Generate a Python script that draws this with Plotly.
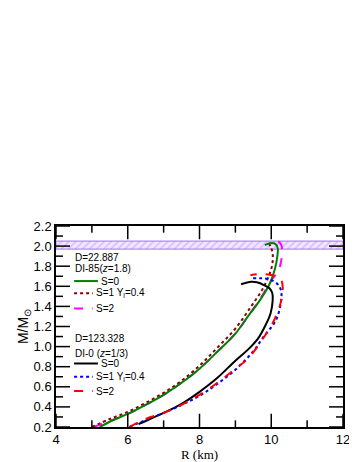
import plotly.graph_objects as go

# observational band (M/Msun)
band_lo = 1.97
band_hi = 2.05
band_r = [4, 12]

# DI-85 (z=1.8), D=22.887
di85_s0_r = [5.22, 5.6, 6.0, 6.5, 7.0, 7.5, 8.0, 8.5, 9.0, 9.35, 9.7, 9.95, 10.1, 10.17, 10.18, 10.12, 10.0, 9.82]
di85_s0_m = [0.20, 0.27, 0.33, 0.42, 0.52, 0.64, 0.78, 0.95, 1.13, 1.30, 1.47, 1.62, 1.77, 1.90, 1.98, 2.02, 2.03, 2.01]
di85_s1_r = [5.0, 5.5, 6.0, 6.5, 7.0, 7.5, 8.0, 8.5, 9.0, 9.44, 9.77, 9.95, 10.03, 10.04, 10.0, 9.93]
di85_s1_m = [0.20, 0.28, 0.35, 0.44, 0.54, 0.66, 0.81, 0.99, 1.18, 1.40, 1.58, 1.72, 1.82, 1.92, 1.98, 2.03]
di85_s2_r = [5.05, 5.5, 6.0, 6.5, 7.0, 7.5, 8.0, 8.5, 9.0, 9.35, 9.7, 9.95, 10.2, 10.27, 10.30, 10.28, 10.14, 10.02]
di85_s2_m = [0.20, 0.26, 0.33, 0.42, 0.52, 0.64, 0.78, 0.95, 1.13, 1.30, 1.48, 1.63, 1.76, 1.84, 1.93, 2.01, 2.06, 2.06]

# DI-0 (z=1/3), D=123.328
di0_s0_r = [6.3, 6.5, 7.0, 7.5, 8.0, 8.5, 9.0, 9.35, 9.63, 9.85, 9.98, 10.04, 10.03, 9.95, 9.81, 9.6, 9.44, 9.16]
di0_s0_m = [0.23, 0.26, 0.34, 0.43, 0.55, 0.69, 0.86, 0.97, 1.08, 1.22, 1.33, 1.46, 1.53, 1.58, 1.61, 1.64, 1.645, 1.62]
di0_s1_r = [6.05, 6.5, 7.0, 7.5, 8.0, 8.5, 9.0, 9.49, 9.77, 10.14, 10.28, 10.27, 10.18, 9.95, 9.72, 9.49]
di0_s1_m = [0.20, 0.27, 0.34, 0.42, 0.51, 0.63, 0.77, 0.95, 1.09, 1.27, 1.47, 1.56, 1.62, 1.67, 1.68, 1.68]
di0_s2_r = [6.05, 6.5, 7.0, 7.5, 8.0, 8.5, 9.0, 9.35, 9.77, 10.09, 10.28, 10.32, 10.28, 10.11, 9.86, 9.6, 9.42]
di0_s2_m = [0.20, 0.28, 0.34, 0.42, 0.52, 0.64, 0.78, 0.88, 1.08, 1.27, 1.46, 1.57, 1.66, 1.70, 1.72, 1.72, 1.71]

# axes and tick values
x_range = [4, 12]
y_range = [0.2, 2.2]
x_major = [4, 6, 8, 10, 12]
x_minor = [5, 7, 9, 11]
y_major = [0.2, 0.4, 0.6, 0.8, 1.0, 1.2, 1.4, 1.6, 1.8, 2.0, 2.2]
y_minor = [0.3, 0.5, 0.7, 0.9, 1.1, 1.3, 1.5, 1.7, 1.9, 2.1]

# key text
group_titles = [["D=22.887", "DI-85(<i>z</i>=1.8)"], ["D=123.328", "DI-0 (<i>z</i>=1/3)"]]
series_names = ["S=0", "S=1 Y<sub>l</sub>=0.4", "S=2"]

fig = go.Figure()

# hatched band
fig.add_trace(go.Scatter(
    x=[band_r[0], band_r[1], band_r[1], band_r[0], band_r[0]],
    y=[band_lo, band_lo, band_hi, band_hi, band_lo],
    fill="toself", mode="lines",
    line=dict(color="#A070FF", width=1),
    fillcolor="#F1E8FF",
    fillpattern=dict(shape="/", fgcolor="#B890FF", bgcolor="#F1E8FF", size=5, solidity=0.3),
    showlegend=False, hoverinfo="skip"))

styles = [
    [("#008000", "solid"), ("#8B0000", "dot"), ("#FF00FF", "dash")],
    [("black", "solid"), ("#0000FF", "dot"), ("#FF0000", "dash")],
]
curves = [
    [(di85_s0_r, di85_s0_m), (di85_s1_r, di85_s1_m), (di85_s2_r, di85_s2_m)],
    [(di0_s0_r, di0_s0_m), (di0_s1_r, di0_s1_m), (di0_s2_r, di0_s2_m)],
]

# draw order: magenta under green
order = [(0, 2), (0, 1), (0, 0), (1, 0), (1, 1), (1, 2)]
for g, s in order:
    r, m = curves[g][s]
    color, dash = styles[g][s]
    fig.add_trace(go.Scatter(x=r, y=m, mode="lines", name=series_names[s], showlegend=False,
                             line=dict(color=color, width=2, dash=dash, shape="spline")))

# inside ticks on all four sides, drawn as one line trace on the axes
plot_w, plot_h = 287, 212
ux = (x_range[1] - x_range[0]) / plot_w   # km per pixel
uy = (y_range[1] - y_range[0]) / plot_h   # M per pixel
tx, ty = [], []
for vals, px in ((x_major, 14), (x_minor, 7)):
    for v in vals:
        tx += [v, v, None, v, v, None]
        ty += [y_range[0], y_range[0] + px * uy, None, y_range[1], y_range[1] - px * uy, None]
for vals, px in ((y_major, 14), (y_minor, 7)):
    for v in vals:
        tx += [x_range[0], x_range[0] + px * ux, None, x_range[1], x_range[1] - px * ux, None]
        ty += [v, v, None, v, v, None]
fig.add_trace(go.Scatter(x=tx, y=ty, mode="lines", line=dict(color="black", width=1.5),
                         showlegend=False, hoverinfo="skip", connectgaps=False))

# hand-made key (paper coords)
x_l = 0.063
title_y = [[0.844, 0.788], [0.439, 0.368]]
item_y = [[0.726, 0.665, 0.590], [0.316, 0.250, 0.179]]
sample_len = [0.083, 0.065, 0.065]
kfont = dict(family="Liberation Sans, Arial", size=10, color="black")
for g in range(2):
    for t, txt in enumerate(group_titles[g]):
        fig.add_annotation(x=x_l, y=title_y[g][t], xref="paper", yref="paper", text=txt,
                           showarrow=False, xanchor="left", yanchor="middle", font=kfont,
                           borderpad=0)
    for s in range(3):
        color, dash = styles[g][s]
        y = item_y[g][s]
        fig.add_shape(type="line", xref="paper", yref="paper", x0=x_l, x1=x_l + sample_len[s],
                      y0=y, y1=y, line=dict(color=color, width=2, dash=dash))
        fig.add_annotation(x=x_l + sample_len[s] + 0.008, y=y, xref="paper", yref="paper",
                           text=series_names[s], showarrow=False, xanchor="left",
                           yanchor="middle", font=kfont, borderpad=0)

fig.update_layout(
    width=357, height=462,
    margin=dict(l=48, r=22, t=218, b=32),
    paper_bgcolor="white", plot_bgcolor="white",
    font=dict(family="Liberation Sans, Arial", size=13, color="black"),
    showlegend=False,
)
axis_common = dict(ticks="", showline=True, linecolor="black", linewidth=1.5, mirror=True,
                   showgrid=False, zeroline=False)
fig.update_xaxes(
    range=x_range, tickmode="array", tickvals=x_major,
    title=dict(text="R (km)", font=dict(family="Liberation Serif, Times New Roman", size=13), standoff=2),
    **axis_common,
)
fig.update_yaxes(
    range=y_range, tickmode="array", tickvals=y_major, tickformat=".1f",
    title=dict(text="M/M<sub>\u2299</sub>", font=dict(size=14), standoff=2),
    **axis_common,
)

fig.write_html("out.html")
